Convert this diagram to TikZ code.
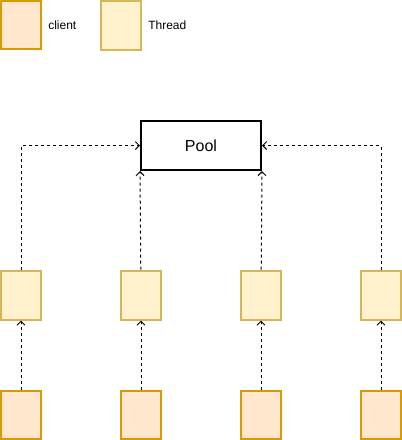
\documentclass[tikz,border=0pt]{standalone}
\usepackage{fontspec}
\setmainfont{Liberation Sans}
\usetikzlibrary{arrows.meta,positioning}
\definecolor{clientfill}{HTML}{FFE6CC}
\definecolor{clientline}{HTML}{D79B00}
\definecolor{threadfill}{HTML}{FFF2CC}
\definecolor{threadline}{HTML}{D6B656}
\tikzset{
  ar/.style={-{Straight Barb[length=3pt,width=6pt]},line width=0.75pt,dash pattern=on 2.25pt off 2.25pt},
  cbox/.style={draw=clientline,fill=clientfill,line width=1.5pt,minimum width=30pt,minimum height=36pt,inner sep=0pt},
  tbox/.style={draw=threadline,fill=threadfill,line width=1.5pt,minimum width=30pt,minimum height=36.75pt,inner sep=0pt},
  poolbox/.style={draw=black,fill=white,line width=1.5pt,minimum width=90pt,minimum height=36.75pt,inner sep=0pt,font=\fontsize{12pt}{14pt}\selectfont},
  lbl/.style={anchor=west,inner sep=0pt,font=\fontsize{9pt}{11pt}\selectfont}
}
\begin{document}
\begin{tikzpicture}[x=0.75pt,y=-0.75pt]
\useasboundingbox (0,0) rectangle (402,440);
% legend
\node[cbox] (keyclient) at (21,25) {};
\node[lbl] (keyclienttext) at (48,25) {client};
\node[tbox] (keythread) at (121,25) {};
\node[lbl] (keythreadtext) at (148,25) {Thread};
% pool
\node[poolbox] (pool) at (201,145.5) {Pool};
% threads and clients
\foreach \i/\x in {1/21,2/141,3/261,4/381}{
  \node[tbox] (thread\i) at (\x,295) {};
  \node[cbox] (client\i) at (\x,415) {};
  \draw[ar] (client\i) -- (thread\i);
}
\draw[ar] (thread1) |- (pool.west);
\draw[ar] (thread2) -- (pool.south west);
\draw[ar] (thread3) -- (pool.south east);
\draw[ar] (thread4) |- (pool.east);
\end{tikzpicture}
\end{document}
